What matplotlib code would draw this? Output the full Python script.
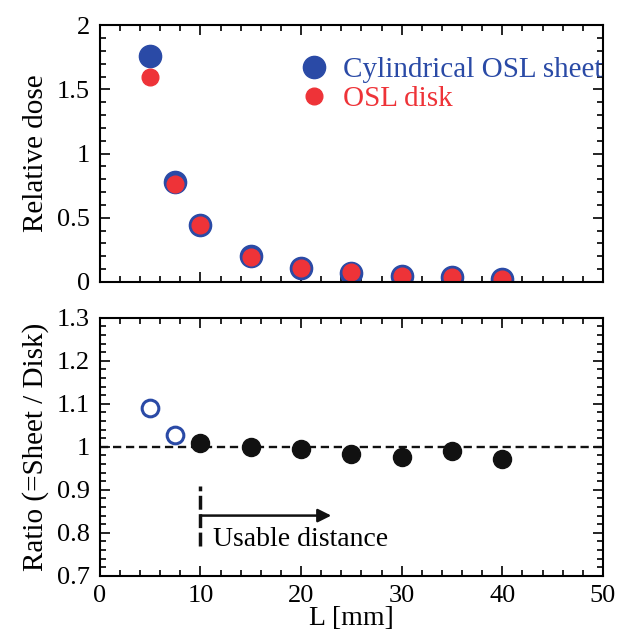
import matplotlib
matplotlib.use('Agg')
from matplotlib import pyplot as plt
from matplotlib.ticker import MultipleLocator, FormatStrFormatter

# data
L = [5, 7.5, 10, 15, 20, 25, 30, 35, 40]
sheet = [1.76, 0.78, 0.44, 0.20, 0.11, 0.067, 0.047, 0.036, 0.02]
disk = [1.60, 0.76, 0.44, 0.19, 0.11, 0.075, 0.047, 0.036, 0.02]
ratio = [1.091, 1.028, 1.009, 0.999, 0.995, 0.983, 0.977, 0.991, 0.972]
open_n = 2  # first two ratio points drawn open

plt.rcParams['font.family'] = 'Liberation Serif'
plt.rcParams['xtick.direction'] = 'in'
plt.rcParams['ytick.direction'] = 'in'

blue = '#2a4aa6'
red = '#ee3338'

fig = plt.figure(figsize=(6.36, 6.32), dpi=100)
ax1 = fig.add_axes([0.157, 0.554, 0.791, 0.406])
ax2 = fig.add_axes([0.157, 0.089, 0.791, 0.408])

# 上图
ax1.plot(L, sheet, 'o', color=blue, markersize=16, label='Cylindrical OSL sheet')
ax1.plot(L, disk, 'o', color=red, markersize=12, label='OSL disk')
ax1.set_xlim(0, 50)
ax1.set_ylim(0, 2)
ax1.set_ylabel('Relative dose', fontsize=21, labelpad=6)
leg = ax1.legend(loc='upper left', bbox_to_anchor=(0.397, 0.878), frameon=False,
                 fontsize=21, handlelength=1.0, handletextpad=0.5, labelspacing=0.1,
                 borderpad=0, borderaxespad=0)
for t, c in zip(leg.get_texts(), [blue, red]):
    t.set_color(c)

# 下图
ax2.plot(L[open_n:], ratio[open_n:], 'o', color='#111111', markersize=13)
ax2.plot(L[:open_n], ratio[:open_n], 'o', markerfacecolor='white',
         markeredgecolor=blue, markeredgewidth=2.2, markersize=12)
ax2.axhline(1.0, color='#111111', linestyle=(0, (3.5, 2)), linewidth=1.7)
ax2.plot([10, 10], [0.77, 0.91], color='#111111', linestyle=(0, (4, 1.3)), linewidth=2.5)
ax2.annotate('', xy=(23, 0.84), xytext=(10, 0.84),
             arrowprops=dict(arrowstyle='-|>', color='#111111', lw=1.8,
                             mutation_scale=20, shrinkA=0, shrinkB=0))
ax2.text(11.2, 0.784, 'Usable distance', fontsize=20, va='center')
ax2.set_xlim(0, 50)
ax2.set_ylim(0.7, 1.3)
ax2.set_ylabel('Ratio (=Sheet / Disk)', fontsize=21, labelpad=6)
ax2.set_xlabel('L [mm]', fontsize=20, labelpad=-1)

for ax, maj, mnr in [(ax1, 0.5, 0.1), (ax2, 0.1, 0.02)]:
    ax.xaxis.set_major_locator(MultipleLocator(10))
    ax.xaxis.set_minor_locator(MultipleLocator(2))
    ax.yaxis.set_major_locator(MultipleLocator(maj))
    ax.yaxis.set_minor_locator(MultipleLocator(mnr))
    ax.yaxis.set_major_formatter(FormatStrFormatter('%g'))
    ax.tick_params(which='both', top=True, right=True, labelsize=19)
    ax.tick_params(axis='y', which='major', pad=7)
    ax.tick_params(axis='x', which='major', pad=7)
    ax.tick_params(which='major', length=7, width=1.2)
    ax.tick_params(which='minor', length=4, width=1.2)
    for s in ax.spines.values():
        s.set_linewidth(1.5)
ax1.tick_params(labelbottom=False)

plt.savefig('out.png', dpi=100)
